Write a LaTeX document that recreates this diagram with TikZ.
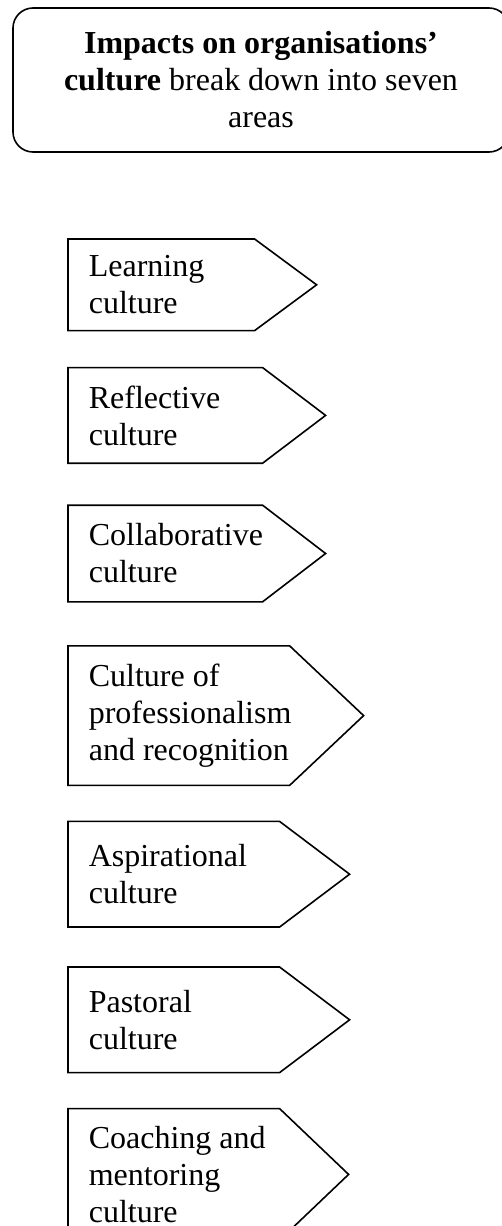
\documentclass[tikz,border=0pt]{standalone}
\usepackage{fontspec}
\setmainfont{Liberation Serif}
\usetikzlibrary{positioning}

\begin{document}
\begin{tikzpicture}[x=1pt,y=-1pt,line width=1.6pt,
		area/.style={anchor=north west,inner sep=0pt,minimum width=#1},
		areatext/.style={align=left,inner sep=0pt,font=\fontsize{32}{37}\selectfont}]
	\useasboundingbox (0,0) rectangle (502,1226);
	\node[draw,rounded corners=20pt,minimum width=496pt,minimum height=144pt,align=center,font=\fontsize{32}{37}\selectfont] (impacts) at (261,80) {\textbf{Impacts on organisations’}\\\textbf{culture} break down into seven\\areas};
	\node[area=185pt,minimum height=90pt] (learning) at (68,239) {};
	\node[below=37pt of learning.south west,area=193pt,minimum height=94pt] (reflective) {};
	\node[below=42pt of reflective.south west,area=193pt,minimum height=95pt] (collaborative) {};
	\node[below=44pt of collaborative.south west,area=220pt,minimum height=138pt] (professionalism) {};
	\node[below=36pt of professionalism.south west,area=210pt,minimum height=104pt] (aspirational) {};
	\node[below=40pt of aspirational.south west,area=210pt,minimum height=104pt] (pastoral) {};
	\node[below=36pt of pastoral.south west,area=210pt,minimum height=130pt] (coaching) {};
	\node[areatext,right=20pt of learning.west] (learningtext) {Learning\\culture};
	\node[areatext,right=20pt of reflective.west] (reflectivetext) {Reflective\\culture};
	\node[areatext,right=20pt of collaborative.west] (collaborativetext) {Collaborative\\culture};
	\node[areatext,right=20pt of professionalism.west] (professionalismtext) {Culture of\\professionalism\\and recognition};
	\node[areatext,right=20pt of aspirational.west] (aspirationaltext) {Aspirational\\culture};
	\node[areatext,right=20pt of pastoral.west] (pastoraltext) {Pastoral\\culture};
	\node[areatext,right=20pt of coaching.west] (coachingtext) {Coaching and\\mentoring\\culture};
	\draw (learning.north west) -- (learning.north east) -- ([xshift=62pt]learning.east) -- (learning.south east) -- (learning.south west) -- cycle;
	\draw (reflective.north west) -- (reflective.north east) -- ([xshift=63pt]reflective.east) -- (reflective.south east) -- (reflective.south west) -- cycle;
	\draw (collaborative.north west) -- (collaborative.north east) -- ([xshift=63pt]collaborative.east) -- (collaborative.south east) -- (collaborative.south west) -- cycle;
	\draw (professionalism.north west) -- (professionalism.north east) -- ([xshift=74pt]professionalism.east) -- (professionalism.south east) -- (professionalism.south west) -- cycle;
	\draw (aspirational.north west) -- (aspirational.north east) -- ([xshift=70pt]aspirational.east) -- (aspirational.south east) -- (aspirational.south west) -- cycle;
	\draw (pastoral.north west) -- (pastoral.north east) -- ([xshift=70pt]pastoral.east) -- (pastoral.south east) -- (pastoral.south west) -- cycle;
	\draw (coaching.north west) -- (coaching.north east) -- ([xshift=69pt]coaching.east) -- (coaching.south east) -- (coaching.south west) -- cycle;
\end{tikzpicture}
\end{document}
